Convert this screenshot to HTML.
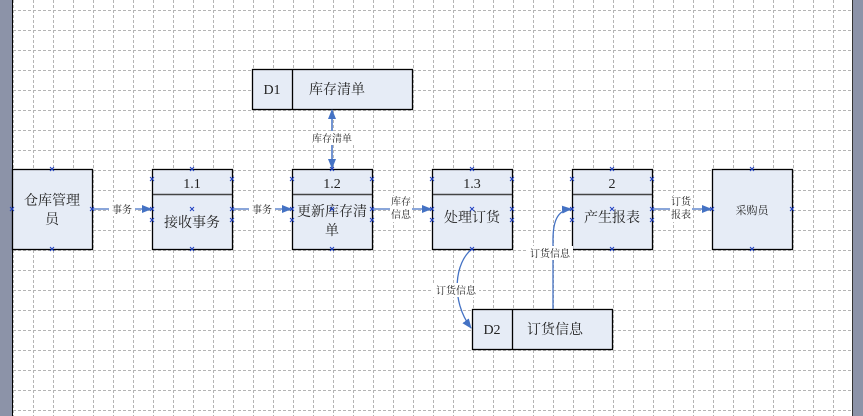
<!DOCTYPE html>
<html><head><meta charset="utf-8"><style>
html,body{margin:0;padding:0;width:863px;height:416px;overflow:hidden;background:#fff}
svg{display:block}
text{font-family:"Liberation Serif","Noto Serif CJK SC",serif;fill:#222}
.s{font-family:"Liberation Sans","Noto Sans CJK SC",sans-serif;font-size:10px;fill:#444}
</style></head><body>
<svg width="863" height="416" viewBox="0 0 863 416" shape-rendering="auto">
<defs>
<pattern id="g" x="13" y="10" width="20" height="20" patternUnits="userSpaceOnUse">
<path d="M0.5 0V20M0 0.5H20" stroke="#b4b4b4" stroke-width="1" stroke-dasharray="3,2" fill="none" shape-rendering="crispEdges"/>
</pattern>
<marker id="a" markerWidth="10" markerHeight="8" refX="9" refY="4" orient="auto" markerUnits="userSpaceOnUse">
<path d="M0 0L10 4L0 8z" fill="#4472c4"/></marker>
<g id="x"><path d="M-2 -2L2 2M-2 2L2 -2" stroke="#2040c0" stroke-width="1"/></g>
</defs>
<rect x="12" y="0" width="841" height="416" fill="url(#g)"/>
<rect x="0" y="0" width="12" height="416" fill="#8c93a8"/>
<line x1="12.5" y1="0" x2="12.5" y2="416" stroke="#000"/>
<rect x="852" y="0" width="11" height="416" fill="#8c93a8"/>
<line x1="852.5" y1="0" x2="852.5" y2="416" stroke="#333"/>

<g fill="#e6ecf6" stroke="#000" stroke-width="1.3">
<rect x="12.5" y="169.5" width="80" height="80"/>
<rect x="152.5" y="169.5" width="80" height="80"/>
<rect x="292.5" y="169.5" width="80" height="80"/>
<rect x="432.5" y="169.5" width="80" height="80"/>
<rect x="572.5" y="169.5" width="80" height="80"/>
<rect x="712.5" y="169.5" width="80" height="80"/>
<rect x="252.5" y="69.5" width="160" height="40"/>
<rect x="472.5" y="309.5" width="140" height="40"/>
</g>
<g stroke="#444" stroke-width="1.5">
<line x1="153" y1="194.5" x2="232" y2="194.5"/>
<line x1="293" y1="194.5" x2="372" y2="194.5"/>
<line x1="433" y1="194.5" x2="512" y2="194.5"/>
<line x1="573" y1="194.5" x2="652" y2="194.5"/>
</g>
<g stroke="#000" stroke-width="1.3">
<line x1="292.5" y1="70" x2="292.5" y2="109"/>
<line x1="512.5" y1="310" x2="512.5" y2="349"/>
</g>

<g font-size="14" text-anchor="middle">
<text x="52" y="205">仓库管理</text><text x="52" y="224">员</text>
<text x="192" y="188">1.1</text><text x="192" y="227">接收事务</text>
<text x="332" y="188">1.2</text><text x="332" y="216">更新库存清</text><text x="332" y="235">单</text>
<text x="472" y="188">1.3</text><text x="472" y="222">处理订货</text>
<text x="612" y="188">2</text><text x="612" y="222">产生报表</text>
<text x="752" y="214" font-size="11">采购员</text>
<text x="272" y="94">D1</text><text x="337" y="94">库存清单</text>
<text x="492" y="334">D2</text><text x="555" y="334">订货信息</text>
</g>

<g stroke="#4472c4" stroke-width="1.3" fill="none">
<line x1="93" y1="209" x2="151" y2="209" marker-end="url(#a)"/>
<line x1="233" y1="209" x2="291" y2="209" marker-end="url(#a)"/>
<line x1="373" y1="209" x2="431" y2="209" marker-end="url(#a)"/>
<line x1="653" y1="209" x2="711" y2="209" marker-end="url(#a)"/>
<line x1="332" y1="168" x2="332" y2="110" marker-end="url(#a)"/>
<path d="M332 111L332 168" marker-end="url(#a)"/>
<path d="M472 249C455 262 450 300 471 328" marker-end="url(#a)"/>
<path d="M553 309L553 240C553 222 557 210 571 209" marker-end="url(#a)"/>
</g>
<g class="s" text-anchor="middle">
<rect x="109" y="202" width="26" height="14" fill="#fff"/><text x="122" y="213">事务</text>
<rect x="249" y="202" width="26" height="14" fill="#fff"/><text x="262" y="213">事务</text>
<rect x="390" y="196" width="22" height="26" fill="#fff"/><text x="401" y="205">库存</text><text x="401" y="218">信息</text>
<rect x="670" y="196" width="22" height="26" fill="#fff"/><text x="681" y="205">订货</text><text x="681" y="218">报表</text>
<rect x="309" y="131" width="46" height="14" fill="#fff"/><text x="332" y="142">库存清单</text>
<rect x="433" y="283" width="46" height="14" fill="#fff"/><text x="456" y="294">订货信息</text>
<rect x="527" y="246" width="46" height="14" fill="#fff"/><text x="550" y="257">订货信息</text>
</g>

<g>
<use href="#x" x="52" y="169"/><use href="#x" x="52" y="249"/><use href="#x" x="12" y="209"/><use href="#x" x="92" y="209"/>
<use href="#x" x="192" y="169"/><use href="#x" x="192" y="249"/><use href="#x" x="192" y="209"/><use href="#x" x="152" y="179"/><use href="#x" x="232" y="179"/><use href="#x" x="152" y="209"/><use href="#x" x="232" y="209"/><use href="#x" x="152" y="220"/><use href="#x" x="232" y="220"/>
<use href="#x" x="332" y="169"/><use href="#x" x="332" y="249"/><use href="#x" x="332" y="209"/><use href="#x" x="292" y="179"/><use href="#x" x="372" y="179"/><use href="#x" x="292" y="209"/><use href="#x" x="372" y="209"/><use href="#x" x="292" y="220"/><use href="#x" x="372" y="220"/>
<use href="#x" x="472" y="169"/><use href="#x" x="472" y="249"/><use href="#x" x="472" y="209"/><use href="#x" x="432" y="179"/><use href="#x" x="512" y="179"/><use href="#x" x="432" y="209"/><use href="#x" x="512" y="209"/><use href="#x" x="432" y="220"/><use href="#x" x="512" y="220"/>
<use href="#x" x="612" y="169"/><use href="#x" x="612" y="249"/><use href="#x" x="612" y="209"/><use href="#x" x="572" y="179"/><use href="#x" x="652" y="179"/><use href="#x" x="572" y="209"/><use href="#x" x="652" y="209"/><use href="#x" x="572" y="220"/><use href="#x" x="652" y="220"/>
<use href="#x" x="752" y="169"/><use href="#x" x="752" y="249"/><use href="#x" x="712" y="209"/><use href="#x" x="792" y="209"/>
</g>
</svg>
</body></html>
